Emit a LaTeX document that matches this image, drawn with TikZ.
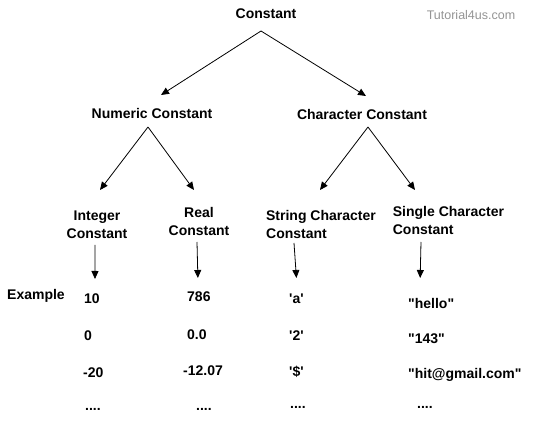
\documentclass[tikz,border=0pt]{standalone}
\usepackage{fontspec}
\setmainfont{Liberation Sans}
\usetikzlibrary{arrows.meta}
\newcommand{\dq}{\textquotedbl}
\newcommand{\sq}{\textquotesingle}
\begin{document}
\begin{tikzpicture}[x=1pt,y=-1pt,
  lbl/.style={inner sep=0pt,font=\fontsize{14}{18}\selectfont\bfseries},
  arr/.style={line width=0.8pt,-{Triangle[length=8pt,width=7pt]}}]
\useasboundingbox (0,0) rectangle (550,425);
\node[lbl] (root) at (266,14) {Constant};
\node[inner sep=0pt,font=\fontsize{12.5}{15}\selectfont,text=black!42] (tut) at (471,15) {Tutorial4us.com};
\node[lbl] (num) at (152,113) {Numeric Constant};
\node[lbl] (chr) at (362,114) {Character Constant};
\node[lbl,align=center] (int) at (97,225) {Integer\\Constant};
\node[lbl,align=center] (real) at (199,221) {Real\\Constant};
\node[lbl,align=left] (str) at (321,224) {String Character\\Constant};
\node[lbl,align=left] (sgl) at (448.5,220) {Single Character\\Constant};
\node[lbl,anchor=west] (ex) at (7,296) {Example};
% column 1
\node[lbl,anchor=west] (a1) at (84,299) {10};
\node[lbl,anchor=west] (a2) at (84,336) {0};
\node[lbl,anchor=west] (a3) at (83,373) {-20};
\node[lbl,anchor=west] (a4) at (85,409) {....};
% column 2
\node[lbl,anchor=west] (b1) at (187,297) {786};
\node[lbl,anchor=west] (b2) at (187,335) {0.0};
\node[lbl,anchor=west] (b3) at (183,371) {-12.07};
\node[lbl,anchor=west] (b4) at (196,409) {....};
% column 3
\node[lbl,anchor=west] (c1) at (289,299) {\sq a\sq};
\node[lbl,anchor=west] (c2) at (289,336) {\sq 2\sq};
\node[lbl,anchor=west] (c3) at (289,372) {\sq\$\sq};
\node[lbl,anchor=west] (c4) at (290,407) {....};
% column 4
\node[lbl,anchor=west] (d1) at (408,303) {\dq hello\dq};
\node[lbl,anchor=west] (d2) at (408,339) {\dq 143\dq};
\node[lbl,anchor=west] (d3) at (408,375) {\dq hit@gmail.com\dq};
\node[lbl,anchor=west] (d4) at (417,407) {....};
% connectors
\draw[arr] ([shift={(-5,17)}]root.center) -- ([shift={(9,-18)}]num.center);
\draw[arr] ([shift={(-5,17)}]root.center) -- ([shift={(4,-18)}]chr.center);
\draw[arr] ([shift={(-4,14)}]num.center) -- ([shift={(3,-35)}]int.center);
\draw[arr] ([shift={(-4,14)}]num.center) -- ([shift={(-5,-31)}]real.center);
\draw[arr] ([shift={(6,13)}]chr.center) -- ([shift={(-1,-34)}]str.center);
\draw[arr] ([shift={(6,13)}]chr.center) -- ([shift={(-33.5,-30)}]sgl.center);
\draw[arr] ([shift={(-2,20)}]int.center) -- ([shift={(3,-20)}]a1.center);
\draw[arr] ([shift={(-2,21)}]real.center) -- ([shift={(-1,-19)}]b1.center);
\draw[arr] ([shift={(-27,19)}]str.center) -- ([shift={(0,-21)}]c1.center);
\draw[arr] ([shift={(-27.5,22)}]sgl.center) -- ([shift={(-11,-25)}]d1.center);
\end{tikzpicture}
\end{document}
